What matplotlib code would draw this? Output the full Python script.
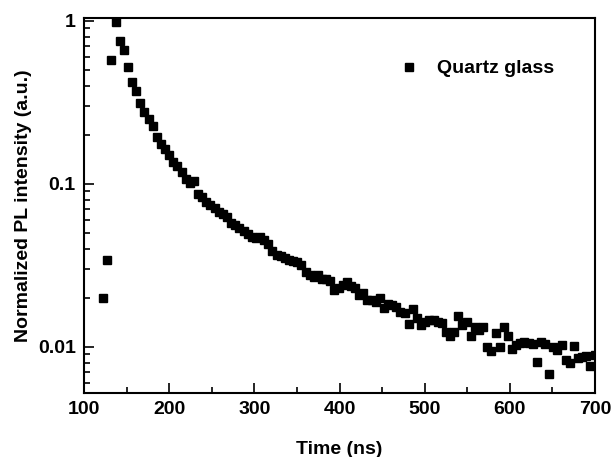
import matplotlib
matplotlib.use("Agg")
import matplotlib.pyplot as plt
from matplotlib.ticker import FixedLocator, FixedFormatter, LogLocator, NullFormatter, MultipleLocator

time_ns = [122.4, 127.3, 132.1, 137.0, 141.8, 146.7, 151.5, 156.4, 161.2, 166.1,
           170.9, 175.8, 180.6, 185.5, 190.3, 195.2, 200.0, 204.9, 209.7, 214.6,
           219.4, 224.3, 229.1, 234.0, 238.8, 243.7, 248.5, 253.4, 258.2, 263.1,
           267.9, 272.8, 277.6, 282.5, 287.3, 292.2, 297.0, 301.9, 306.7, 311.6,
           316.4, 321.3, 326.1, 331.0, 335.8, 340.7, 345.5, 350.4, 355.2, 360.1,
           364.9, 369.8, 374.6, 379.5, 384.3, 389.2, 394.0, 398.9, 403.7, 408.6,
           413.4, 418.3, 423.1, 428.0, 432.8, 437.7, 442.5, 447.4, 452.2, 457.1,
           461.9, 466.8, 471.6, 476.5, 481.3, 486.2, 491.0, 495.9, 500.7, 505.6,
           510.4, 515.3, 520.1, 525.0, 529.8, 534.7, 539.5, 544.4, 549.2, 554.1,
           558.9, 563.8, 568.6, 573.5, 578.3, 583.2, 588.0, 592.9, 597.7, 602.6,
           607.4, 612.3, 617.1, 622.0, 626.8, 631.7, 636.5, 641.4, 646.2, 651.1,
           655.9, 660.8, 665.6, 670.5, 675.3, 680.2, 685.0, 689.9, 694.7, 699.6]

intensity = [0.020, 0.034, 0.58, 0.98, 0.75, 0.66, 0.52, 0.42, 0.37, 0.315,
             0.278, 0.25, 0.226, 0.194, 0.176, 0.164, 0.150, 0.137, 0.129, 0.119,
             0.107, 0.102, 0.105, 0.087, 0.083, 0.078, 0.074, 0.071, 0.0676, 0.0655,
             0.063, 0.0574, 0.056, 0.054, 0.0515, 0.049, 0.047, 0.0465, 0.0475, 0.0455,
             0.043, 0.039, 0.0365, 0.036, 0.035, 0.0342, 0.0336, 0.033, 0.032, 0.029,
             0.0275, 0.0268, 0.0277, 0.026, 0.0262, 0.0255, 0.0224, 0.0229, 0.024, 0.0251,
             0.0235, 0.0229, 0.0208, 0.0213, 0.0194, 0.0195, 0.019, 0.0199, 0.0173, 0.0183,
             0.0181, 0.0177, 0.0165, 0.0161, 0.0138, 0.017, 0.015, 0.0136, 0.0143, 0.0146,
             0.0146, 0.0143, 0.014, 0.0124, 0.0116, 0.0124, 0.0156, 0.0136, 0.0143, 0.0116,
             0.0133, 0.0127, 0.0132, 0.0100, 0.0094, 0.0121, 0.0100, 0.0133, 0.0117, 0.0097,
             0.0103, 0.0106, 0.0108, 0.0106, 0.0104, 0.0081, 0.0108, 0.0105, 0.0068, 0.0100,
             0.0096, 0.0103, 0.0083, 0.0080, 0.0101, 0.0085, 0.0087, 0.0088, 0.0076, 0.0089]

series_label = "Quartz glass"
x_ticks = [100, 200, 300, 400, 500, 600, 700]
y_ticks = [0.01, 0.1, 1]
y_tick_labels = ["0.01", "0.1", "1"]

plt.rcParams['font.family'] = ['Liberation Sans', 'DejaVu Sans']
plt.rcParams['font.weight'] = 'bold'

fig = plt.figure(figsize=(6.14, 4.57), dpi=100)
ax = fig.add_axes([84/614, 64/457, 511/614, 375/457])

ax.plot(time_ns, intensity, linestyle='none', marker='s', markersize=5.2,
        color='black', label=series_label)

ax.set_yscale('log')
ax.set_xlim(100, 700)
ax.set_ylim(0.00522, 1.043)

ax.xaxis.set_major_locator(FixedLocator(x_ticks))
ax.xaxis.set_minor_locator(MultipleLocator(50))
ax.yaxis.set_major_locator(FixedLocator(y_ticks))
ax.yaxis.set_major_formatter(FixedFormatter(y_tick_labels))
ax.yaxis.set_minor_locator(LogLocator(base=10, subs=range(2, 10)))
ax.yaxis.set_minor_formatter(NullFormatter())

ax.tick_params(which='both', direction='in', top=False, right=False, width=1.2)
ax.tick_params(which='major', length=7, labelsize=14, pad=6)
ax.tick_params(which='minor', length=4)
for lbl in ax.get_xticklabels() + ax.get_yticklabels():
    lbl.set_fontweight('bold')

for sp in ax.spines.values():
    sp.set_linewidth(1.5)

ax.set_xlabel("Time (ns)", fontsize=14, fontweight='bold', labelpad=16)
ax.set_ylabel("Normalized PL intensity (a.u.)", fontsize=14, fontweight='bold', labelpad=4)

leg = ax.legend(loc='upper left', bbox_to_anchor=(0.564, 0.935), frameon=False,
                prop={'size': 14, 'weight': 'bold'}, handletextpad=0.45,
                markerscale=1.0)

fig.savefig("out.png", dpi=100)
